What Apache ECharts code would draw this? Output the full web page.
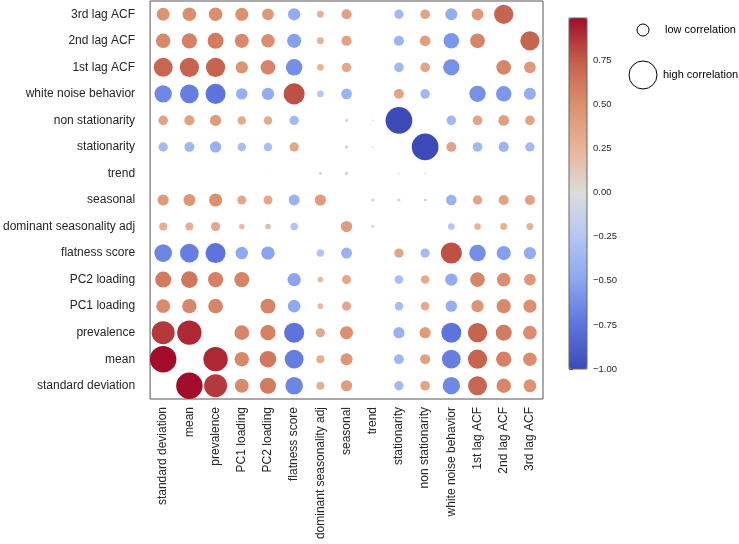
<!DOCTYPE html>
<html>
<head>
<meta charset="utf-8">
<script src="https://cdn.jsdelivr.net/npm/echarts@6/dist/echarts.min.js"></script>
<style>
html,body{margin:0;padding:0;background:#fff;}
#chart{width:739px;height:544px;}
</style>
</head>
<body>
<div id="chart"></div>
<script>
// Variable names (x axis left->right, y axis bottom->top)
const categories = ['standard deviation','mean','prevalence','PC1 loading','PC2 loading','flatness score','dominant seasonality adj','seasonal','trend','stationarity','non stationarity','white noise behavior','1st lag ACF','2nd lag ACF','3rd lag ACF'];

// Correlation rows (column order = categories), diagonal hidden
const rowSD       = [null, 0.99, 0.86, 0.52, 0.60, -0.66, 0.30, 0.42, 0.01, -0.35, 0.36, -0.65, 0.71, 0.54, 0.48];
const rowMean     = [0.99, null, 0.91, 0.54, 0.62, -0.70, 0.30, 0.45, 0.01, -0.37, 0.38, -0.70, 0.72, 0.57, 0.51];
const rowPrev     = [0.86, 0.91, null, 0.55, 0.57, -0.75, 0.34, 0.49, 0.01, -0.42, 0.42, -0.75, 0.72, 0.60, 0.51];
const rowPC1      = [0.52, 0.54, 0.55, null, 0.56, -0.47, 0.21, 0.34, 0.01, -0.32, 0.32, -0.43, 0.46, 0.53, 0.49];
const rowPC2      = [0.60, 0.62, 0.57, 0.56, null, -0.50, 0.21, 0.34, 0.03, -0.32, 0.32, -0.46, 0.55, 0.51, 0.44];
const rowFlat     = [-0.66, -0.70, -0.75, -0.47, -0.50, null, -0.28, -0.41, 0.03, 0.35, -0.35, 0.79, -0.62, -0.53, -0.46];
const rowDom      = [0.30, 0.30, 0.34, 0.21, 0.21, -0.28, null, 0.42, -0.11, 0.0, 0.0, -0.25, 0.25, 0.26, 0.26];
const rowSeas     = [0.42, 0.45, 0.49, 0.34, 0.34, -0.41, 0.42, null, -0.12, -0.12, 0.10, -0.40, 0.35, 0.38, 0.38];
const rowTrend    = [0.01, 0.01, 0.01, 0.01, 0.03, 0.03, -0.11, -0.12, null, -0.06, 0.06, 0.0, 0.01, 0.02, 0.01];
const rowStat     = [-0.35, -0.37, -0.42, -0.32, -0.32, 0.35, 0.0, -0.12, -0.06, null, -1.0, 0.37, -0.36, -0.38, -0.35];
const rowNonStat  = [0.36, 0.38, 0.42, 0.32, 0.32, -0.35, 0.0, 0.10, 0.06, -1.0, null, -0.36, 0.36, 0.40, 0.36];
const rowWN       = [-0.65, -0.70, -0.75, -0.43, -0.46, 0.79, -0.25, -0.40, 0.0, 0.37, -0.36, null, -0.61, -0.58, -0.45];
const rowLag1     = [0.71, 0.72, 0.72, 0.46, 0.55, -0.62, 0.25, 0.35, 0.01, -0.36, 0.36, -0.61, null, 0.55, 0.44];
const rowLag2     = [0.54, 0.57, 0.60, 0.53, 0.51, -0.53, 0.26, 0.38, 0.02, -0.38, 0.40, -0.58, 0.55, null, 0.72];
const rowLag3     = [0.48, 0.51, 0.51, 0.49, 0.44, -0.46, 0.26, 0.38, 0.01, -0.35, 0.36, -0.45, 0.44, 0.72, null];

const colorbarTicks = [-1.0, -0.75, -0.5, -0.25, 0.0, 0.25, 0.5, 0.75];
const colorMin = -1.0;
const colorMax = 0.99;
const legendLabels = ['low correlation', 'high correlation'];

const rows = [rowSD,rowMean,rowPrev,rowPC1,rowPC2,rowFlat,rowDom,rowSeas,rowTrend,rowStat,rowNonStat,rowWN,rowLag1,rowLag2,rowLag3];
const points = [];
rows.forEach((r, i) => r.forEach((v, j) => { if (v !== null) points.push([j, i, v]); }));

// muted coolwarm, as it appears in the reference
const coolwarm = ['#3d4bb8','#5c74dc','#8ba5f2','#b4c6f2','#dcdcdc','#e8b59a','#dd9070','#c5604c','#a20c2a'];
const FONT = 'Liberation Sans, Arial, sans-serif';
const fmt = v => {
  const s = Math.abs(v).toFixed(2);
  return (v < 0 ? '\u2212' : '') + s;
};

const chart = echarts.init(document.getElementById('chart'), null, {renderer: 'canvas'});
chart.setOption({
  animation: false,
  backgroundColor: '#fff',
  textStyle: {fontFamily: FONT},
  grid: [
    {left: 144, top: 1, width: 399, height: 398, show: true, borderColor: '#555', borderWidth: 1, backgroundColor: 'transparent'},
    {left: 569, top: 18, width: 18, height: 351, show: true, borderColor: '#666', borderWidth: 1, backgroundColor: 'transparent', z: 10}
  ],
  xAxis: [
    {type: 'category', gridIndex: 0, data: categories, boundaryGap: true,
     axisLine: {show: false}, axisTick: {show: false}, splitLine: {show: false},
     axisLabel: {rotate: 90, interval: 0, margin: 8, fontSize: 12, color: '#262626', fontFamily: FONT}},
    {type: 'value', gridIndex: 1, show: false, min: 0, max: 1}
  ],
  yAxis: [
    {type: 'category', gridIndex: 0, data: categories, boundaryGap: true,
     axisLine: {show: false}, axisTick: {show: false}, splitLine: {show: false},
     axisLabel: {interval: 0, margin: 15, fontSize: 12, color: '#262626', fontFamily: FONT}},
    {type: 'value', gridIndex: 1, position: 'right', min: colorMin, max: colorMax, interval: 0.25,
     axisLine: {show: false}, splitLine: {show: false},
     axisTick: {show: true, length: 4, lineStyle: {color: '#444'}},
     axisLabel: {show: true, margin: 6, fontSize: 9.5, color: '#262626', fontFamily: FONT, showMaxLabel: false,
       formatter: v => colorbarTicks.some(t => Math.abs(t - v) < 1e-6) ? fmt(v) : ''}}
  ],
  visualMap: {
    type: 'continuous', min: colorMin, max: colorMax, dimension: 2, seriesIndex: 0,
    inRange: {color: coolwarm}, left: 569, top: 18, itemWidth: 18, itemHeight: 351,
    padding: 0, calculable: false, text: null, hoverLink: false, z: 4
  },
  series: [{
    type: 'scatter', xAxisIndex: 0, yAxisIndex: 0, data: points,
    symbol: 'circle',
    symbolSize: val => Math.abs(val[2]) * 26.7,
    itemStyle: {opacity: 1}
  }],
  graphic: [
    {type: 'circle', shape: {cx: 643, cy: 30, r: 6}, style: {fill: '#fff', stroke: '#000', lineWidth: 1}},
    {type: 'text', x: 665, y: 30, style: {text: legendLabels[0], fontSize: 11, fontFamily: FONT, fill: '#000', verticalAlign: 'middle', align: 'left'}},
    {type: 'circle', shape: {cx: 643, cy: 75, r: 14}, style: {fill: '#fff', stroke: '#000', lineWidth: 1}},
    {type: 'text', x: 663, y: 75, style: {text: legendLabels[1], fontSize: 11, fontFamily: FONT, fill: '#000', verticalAlign: 'middle', align: 'left'}}
  ]
});
</script>
</body>
</html>
